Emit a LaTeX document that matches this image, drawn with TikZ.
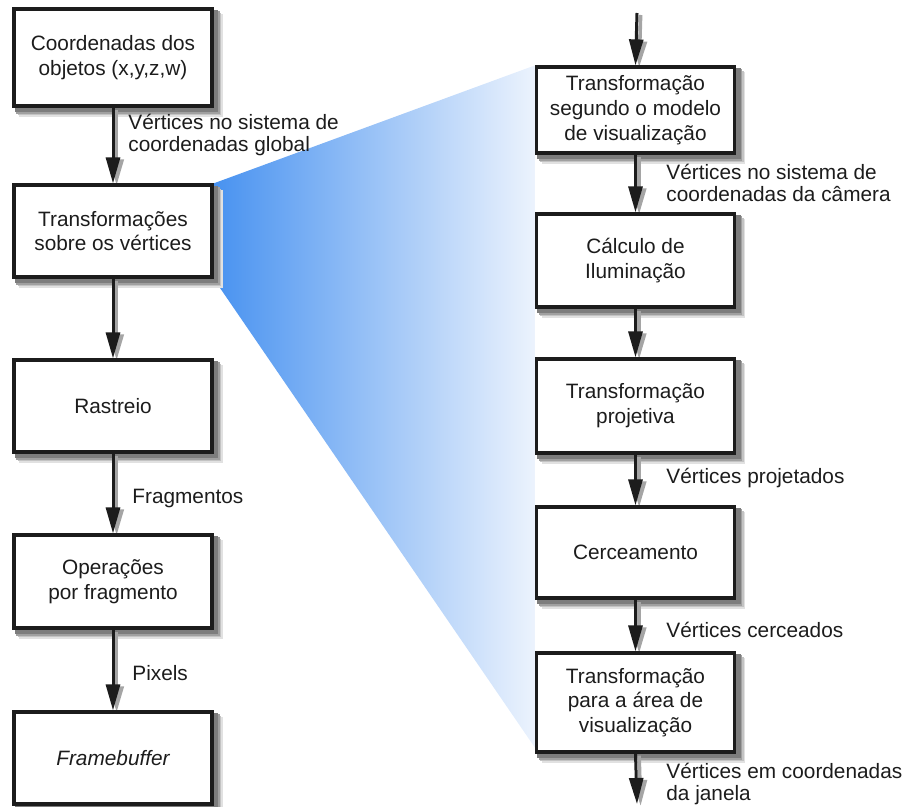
\documentclass[tikz,border=0pt]{standalone}
\usepackage{fontspec}
\setmainfont{Liberation Sans}
\usetikzlibrary{arrows.meta,calc}

\definecolor{ink}{RGB}{28,28,28}
\definecolor{fanL}{RGB}{72,146,240}
\definecolor{fanR}{RGB}{236,243,253}
\definecolor{shA}{RGB}{225,225,225}
\definecolor{shB}{RGB}{195,195,195}
\definecolor{shC}{RGB}{160,160,160}
\definecolor{shD}{RGB}{125,125,125}
\definecolor{arrowshade}{RGB}{165,165,165}

\pgfdeclarelayer{back}
\pgfsetlayers{back,main}

\tikzset{
  stage/.style={draw=ink, line width=1.6pt, fill=white, align=center,
    text=ink, minimum width=99pt, inner sep=2pt,
    font=\fontsize{10.4}{12.4}\selectfont},
  tip/.style={-{Triangle[length=13pt,width=7pt]}},
  flow/.style={draw=ink, line width=1.5pt, tip},
  flowshade/.style={draw=arrowshade, line width=1.8pt, tip},
  tag/.style={text=ink, align=left, anchor=base west, inner sep=0pt,
    font=\fontsize{10.4}{11}\selectfont}
}

\begin{document}
\begin{tikzpicture}[x=0.5pt,y=-0.5pt]
\useasboundingbox (0,0) rectangle (909,807);

% main pipeline
\node[stage, minimum height=48.5pt] (obj)  at (113,57.5) {Coordenadas dos\\objetos (x,y,z,w)};
\node[stage, minimum height=46pt]   (vtx)  at (113,231)  {Transformações\\sobre os vértices};
\node[stage, minimum height=46pt]   (rst)  at (113,406)  {Rastreio};
\node[stage, minimum height=46.5pt] (frg)  at (113,581.5){Operações\\por fragmento};
\node[stage, minimum height=46pt]   (fb)   at (113,758)  {\itshape Framebuffer};

% vertex stage in detail
\node[stage, minimum height=43pt]   (mdl)  at (635.5,110)   {Transformação\\segundo o modelo\\de visualização};
\node[stage, minimum height=46.5pt] (ilu)  at (635.5,260.5) {Cálculo de\\Iluminação};
\node[stage, minimum height=47pt]   (prj)  at (635.5,406)   {Transformação\\projetiva};
\node[stage, minimum height=45.5pt] (clp)  at (635.5,552.5) {Cerceamento};
\node[stage, minimum height=49.5pt] (vpt)  at (635.5,702.5) {Transformação\\para a área de\\visualização};

\begin{pgfonlayer}{back}
  % the fan that opens the vertex stage into its sub-steps
  \shade[left color=fanL, right color=fanR]
    (vtx.north east) -- (mdl.north west) -- ($(vpt.south west)+(0,-6)$)
    -- (vtx.south east) -- cycle;
  % soft box shadows: graded grey layers offset to the lower right
  \foreach \n in {obj,vtx,rst,frg,fb,mdl,ilu,prj,clp,vpt}{
    \foreach \d/\layer in {8/shA, 6.5/shB, 5/shC, 3.5/shD}{
      \fill[\layer] ($(\n.south west)+(\d-1,\d+1)$) rectangle ($(\n.north east)+(\d+1,\d-1)$);
    }
  }
\end{pgfonlayer}

\coordinate (inR)  at (637,13);
\coordinate (outR) at (637,804);

% connectors, each with an offset grey shade under it
\foreach \a/\b in {obj.south/vtx.north, vtx.south/rst.north,
                   rst.south/frg.north, frg.south/fb.north,
                   inR/mdl.north, mdl.south/ilu.north, ilu.south/prj.north,
                   prj.south/clp.north, clp.south/vpt.north, vpt.south/outR}{
  \begin{pgfonlayer}{back}
    \draw[flowshade] ($(\a)+(3.6,2)$) -- ($(\b)+(3.6,2)$);
  \end{pgfonlayer}
  \draw[flow] (\a) -- (\b);
}

% connector labels
\node[tag] (t1) at (128,152) {Vértices no sistema de\\coordenadas global};
\node[tag] (t2) at (132,503) {Fragmentos};
\node[tag] (t3) at (132,680) {Pixels};
\node[tag] (t4) at (666,202) {Vértices no sistema de\\coordenadas da câmera};
\node[tag] (t5) at (666,483) {Vértices projetados};
\node[tag] (t6) at (666,637) {Vértices cerceados};
\node[tag] (t7) at (666,800) {Vértices em coordenadas\\da janela};
\end{tikzpicture}
\end{document}
